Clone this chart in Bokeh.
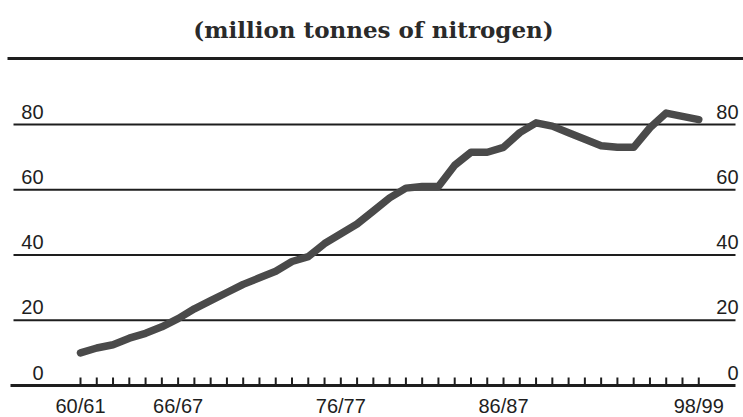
from bokeh.plotting import figure
from bokeh.models import Range1d
from bokeh.core.properties import value
from bokeh.embed import file_html
from bokeh.resources import INLINE

# ---- data ----
years = list(range(1960, 1999))          # 60/61 ... 98/99
nitrogen = [10, 11.5, 12.5, 14.5, 16, 18, 20.5, 23.5, 26, 28.5,
            31, 33, 35, 38, 39.5, 43.5, 46.5, 49.5, 53.5, 57.5,
            60.5, 61, 61, 67.5, 71.5, 71.5, 73, 77.5, 80.5, 79.5,
            77.5, 75.5, 73.5, 73, 73, 79, 83.5, 82.5, 81.5]
y_ticks = [0, 20, 40, 60, 80]
y_tick_labels = ["0", "20", "40", "60", "80"]
x_label_years = [1960, 1966, 1976, 1986, 1998]
x_labels = ["60/61", "66/67", "76/77", "86/87", "98/99"]
title_text = "(million tonnes of nitrogen)"

# ---- layout (pixels inside the figure) ----
FIG_W, FIG_H = 743, 417
X0_PX, DX_PX = 80.0, 16.27      # pixel of first year, pixels per year
Y0_PX, DY_PX = 385.0, 3.2625    # pixel (from top) of value 0, pixels per unit

def px2x(fx):
    return years[0] + (fx - X0_PX) / DX_PX

def px2y(fy):
    return (Y0_PX - fy) / DY_PX

p = figure(width=FIG_W, height=FIG_H, output_backend="svg", toolbar_location=None,
           x_range=Range1d(px2x(0), px2x(FIG_W)), y_range=Range1d(px2y(FIG_H), px2y(0)),
           min_border=0, outline_line_color=None, background_fill_color="white",
           border_fill_color="white")
p.axis.visible = False
p.grid.visible = False

ink = "#1e1e1e"

# title
p.text(x=[px2x(373)], y=[px2y(29)], text=[title_text], text_align="center",
       text_baseline="middle", text_font=value("DejaVu Serif"),
       text_font_style="bold", text_font_size="23px", text_color="#2a2a2a")

# top rule
p.segment(x0=[px2x(7)], y0=[px2y(58)], x1=[px2x(FIG_W + 2)], y1=[px2y(58)],
          line_color=ink, line_width=3)

# gridlines (non-zero)
grid_vals = [v for v in y_ticks if v != 0]
p.segment(x0=[px2x(13)] * len(grid_vals), y0=grid_vals,
          x1=[px2x(735)] * len(grid_vals), y1=grid_vals,
          line_color=ink, line_width=2)

# baseline
p.segment(x0=[px2x(10)], y0=[0], x1=[px2x(735)], y1=[0], line_color=ink, line_width=3)

# year ticks (inward, upward)
tick_len = 8 / DY_PX
p.segment(x0=years, y0=[0] * len(years), x1=years, y1=[tick_len] * len(years),
          line_color=ink, line_width=2)

# left and right value labels
lab_off = 13 / DY_PX
p.text(x=[px2x(43)] * len(y_ticks), y=[v + lab_off for v in y_ticks], text=y_tick_labels,
       text_align="right", text_baseline="middle",
       text_font=value("Liberation Sans"), text_font_size="20px", text_color=ink)
p.text(x=[px2x(738)] * len(y_ticks), y=[v + lab_off for v in y_ticks], text=y_tick_labels,
       text_align="right", text_baseline="middle",
       text_font=value("Liberation Sans"), text_font_size="20px", text_color=ink)

# x labels
p.text(x=x_label_years, y=[px2y(405)] * len(x_label_years), text=x_labels,
       text_align="center", text_baseline="middle",
       text_font=value("Liberation Sans"), text_font_size="20px", text_color=ink)

# data line
p.line(x=years, y=nitrogen, line_color="#4a4a4a", line_width=7.5, line_join="round",
       line_cap="round")

open("out.html", "w").write(file_html(p, INLINE))
